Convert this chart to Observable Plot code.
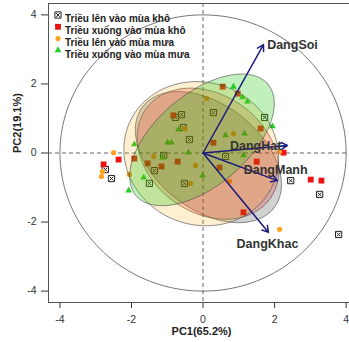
<!DOCTYPE html>
<html><head><meta charset="utf-8">
<script src="https://cdn.jsdelivr.net/npm/d3@7"></script>
<script src="https://cdn.jsdelivr.net/npm/@observablehq/plot@0.6"></script>
<style>
html,body{margin:0;padding:0;background:#fff;overflow:hidden;}
#chart svg{display:block;}
</style></head><body><div id="chart"></div>
<script>
// ---- data ----
const groups = ["Triều lên vào mùa khô", "Triều xuống vào mùa khô", "Triều lên vào mùa mưa", "Triều xuống vào mùa mưa"];

const lenKhoX = [-0.77, -0.60, -0.55, -0.38, 0.29, 1.72, -1.10, -1.36, -1.50, -0.52, 0.63, -2.73, -2.56, 2.45, 3.26, 3.79];
const lenKhoY = [1.03, 1.11, 0.74, 0.39, 1.17, 1.03, -0.07, -0.51, -0.88, -0.88, -0.10, -0.48, -0.74, -0.80, -1.20, -2.36];

const xuongKhoX = [0.55, 0.97, -0.83, 0.29, 1.61, 2.25, 1.50, -0.71, -1.16, -1.55, 0.46, -1.92, -2.36, -2.78, 1.13, 3.01, 3.31];
const xuongKhoY = [1.92, 1.72, 1.09, 0.30, 0.71, 0.01, -0.25, -0.25, -0.39, -0.30, -0.42, -0.16, -0.19, -0.33, -1.72, -0.77, -0.80];

const lenMuaX = [0.10, 0.85, -2.50, -2.81, -2.84, -2.06, -1.38, -0.21, -0.35, 0.74, 2.14, 2.14, -0.50];
const lenMuaY = [1.58, 0.56, 0.01, -0.54, -0.68, -0.62, -0.10, -0.36, -0.88, -0.82, -2.21, 0.04, 0.70];

const xuongMuaX = [0.85, 1.10, 1.24, -0.69, -0.99, -0.88, -1.92, -0.41, -1.13, 0.63, 1.16, 1.13, 1.94, -1.66, -2.08, -0.01];
const xuongMuaY = [1.92, 1.61, 1.49, 0.68, 0.30, 0.30, 0.25, 0.01, -0.13, 0.51, 0.56, -0.07, 0.77, -0.71, -1.09, -0.65];

// confidence ellipses (centre, semi-axes, angle in degrees), one per group
const ellipseCX = [0.15, 0.14, -0.05, -0.03];
const ellipseCY = [-0.12, -0.02, -0.02, 0.38];
const ellipseA = [2.35, 2.17, 2.20, 2.45];
const ellipseB = [1.50, 1.68, 2.05, 1.31];
const ellipseAngle = [-40, -40, -30, 42];

// variable loadings
const varNames = ["DangSoi", "DangHat", "DangManh", "DangKhac"];
const loadX = [1.69, 2.36, 2.08, 1.83];
const loadY = [3.14, 0.22, -0.80, -2.30];
const labelX = [2.50, 1.47, 2.03, 1.80];
const labelY = [3.14, 0.19, -0.48, -2.65];

const circleRadius = [4];
const xTicks = [-4, -2, 0, 2, 4];
const yTicks = [-4, -2, 0, 2, 4];
const xTitle = "PC1(65.2%)";
const yTitle = "PC2(19.1%)";

// ---- derived ----
const pts = (xs, ys) => xs.map((x, i) => ({x, y: ys[i]}));
const ellipsePts = (i) => {
  const t = ellipseAngle[i] * Math.PI / 180;
  return d3.range(0, 361, 3).map(k => {
    const u = k * Math.PI / 180;
    const ca = ellipseA[i] * Math.cos(u), sb = ellipseB[i] * Math.sin(u);
    return {x: ellipseCX[i] + ca * Math.cos(t) - sb * Math.sin(t),
            y: ellipseCY[i] + ca * Math.sin(t) + sb * Math.cos(t)};
  });
};
const circlePts = d3.range(0, 361, 2).map(k => ({
  x: circleRadius[0] * Math.cos(k * Math.PI / 180),
  y: circleRadius[0] * Math.sin(k * Math.PI / 180)
}));
const loadings = varNames.map((name, i) => ({name, x: loadX[i], y: loadY[i], lx: labelX[i], ly: labelY[i]}));

const squareX = {
  draw(ctx, size) {
    const s = Math.sqrt(size) / 2;
    ctx.moveTo(-s, -s); ctx.lineTo(s, -s); ctx.lineTo(s, s); ctx.lineTo(-s, s); ctx.closePath();
    ctx.moveTo(-s * 0.6, -s * 0.6); ctx.lineTo(s * 0.6, s * 0.6);
    ctx.moveTo(s * 0.6, -s * 0.6); ctx.lineTo(-s * 0.6, s * 0.6);
  }
};

const symStyles = [
  {symbol: squareX, fill: "none", stroke: "#222", strokeWidth: 1, r: 3.5},
  {symbol: d3.symbolSquare, fill: "#ee1111", stroke: "none", r: 3.3},
  {symbol: d3.symbolCircle, fill: "#ffa020", stroke: "none", r: 2.6},
  {symbol: d3.symbolTriangle, fill: "#22cc22", stroke: "none", r: 2.5}
];
const groupPts = [pts(lenKhoX, lenKhoY), pts(xuongKhoX, xuongKhoY), pts(lenMuaX, lenMuaY), pts(xuongMuaX, xuongMuaY)];
const ellFill = ["#000000", "#ff0000", "#ffa500", "#22c811"];
const ellOpacity = [0.18, 0.2, 0.18, 0.28];

const marks = [
  Plot.line(circlePts, {x: "x", y: "y", stroke: "#777", strokeWidth: 1}),
  Plot.ruleX([0], {stroke: "#555", strokeDasharray: "4,3", strokeWidth: 0.9}),
  Plot.ruleY([0], {stroke: "#555", strokeDasharray: "4,3", strokeWidth: 0.9}),
  ...groupPts.map((d, i) => Plot.dot(d, {x: "x", y: "y", ...symStyles[i]})),
  ...groups.map((g, i) => Plot.line(ellipsePts(i), {x: "x", y: "y", fill: ellFill[i], fillOpacity: ellOpacity[i], stroke: "#444", strokeOpacity: 0.75, strokeWidth: 0.8})),
  Plot.arrow(loadings, {x1: () => 0, y1: () => 0, x2: "x", y2: "y", stroke: "#1c1c7c", strokeWidth: 1.5, headLength: 7, inset: 0}),
  Plot.text(loadings, {x: "lx", y: "ly", text: "name", fontWeight: "bold", fontSize: 12.5, fill: "#333", textAnchor: "middle"}),
  ...groups.map((g, i) => Plot.dot([g], {frameAnchor: "top-left", dx: 9.5, dy: 11.5 + 11.8 * i, ...symStyles[i]})),
  ...groups.map((g, i) => Plot.text([g], {frameAnchor: "top-left", dx: 16.5, dy: 11.5 + 11.8 * i, text: d => d, textAnchor: "start", fontSize: 10, fontWeight: "bold", fill: "#222"})),
  Plot.text([xTitle], {frameAnchor: "bottom", dx: 1.5, dy: 32.5, text: d => d, fontWeight: "bold", fontSize: 11, fill: "#222"}),
  Plot.text([yTitle], {frameAnchor: "left", dx: -31, text: d => d, rotate: -90, fontWeight: "bold", fontSize: 11, fill: "#222"}),
  Plot.frame({stroke: "#555"})
];

const chart = Plot.plot({
  width: 349, height: 342,
  marginLeft: 48, marginRight: -2, marginTop: 3, marginBottom: 40,
  x: {domain: [-4.32, 4.15], ticks: xTicks, tickSize: 6, tickPadding: 7, tickFormat: d => String(d), label: null},
  y: {domain: [-4.33, 4.33], ticks: yTicks, tickSize: 7, tickPadding: 5, tickFormat: d => String(d), label: null},
  style: {fontFamily: "'Liberation Sans', Arial, sans-serif", fontSize: "10.5px", color: "#333", background: "#fff"},
  marks
});
document.getElementById("chart").append(chart);
</script></body></html>
